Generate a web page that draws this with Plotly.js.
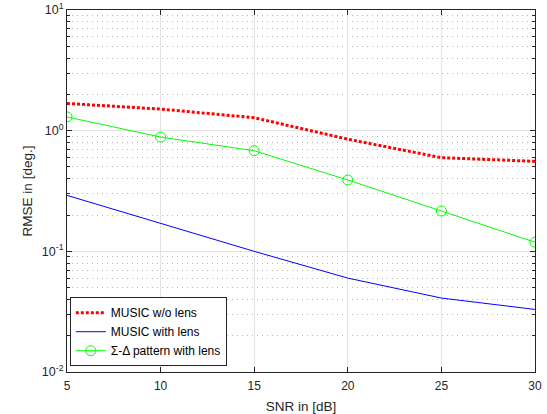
<!DOCTYPE html>
<html>
<head>
<meta charset="utf-8">
<script src="https://cdn.plot.ly/plotly-3.0.1.min.js"></script>
<style>body{margin:0;padding:0;background:#fff;} #plot{width:547px;height:414px;}</style>
</head>
<body>
<div id="plot"></div>
<script>
var snr = [5, 10, 15, 20, 25, 30];
var musicNoLens = [1.68, 1.51, 1.28, 0.85, 0.597, 0.557];
var musicLens = [0.291, 0.17, 0.1, 0.06, 0.041, 0.033];
var sigmaDelta = [1.30, 0.885, 0.682, 0.39, 0.216, 0.119];
var names = ['MUSIC w/o lens', 'MUSIC with lens', '\u03A3-\u0394 pattern with lens'];
var yTickVals = [0.01, 0.1, 1, 10];
var yTickText = ['10<sup>-2</sup>', '10<sup>-1</sup>', '10<sup>0</sup>', '10<sup>1</sup>'];
var xTickVals = [5, 10, 15, 20, 25, 30];

var traces = [
  {x: snr, y: musicNoLens, name: names[0], mode: 'lines', type: 'scatter',
   line: {color: 'rgb(255,0,0)', width: 3, dash: '3px,2px'}},
  {x: snr, y: musicLens, name: names[1], mode: 'lines', type: 'scatter',
   line: {color: 'rgb(0,0,255)', width: 1}},
  {x: snr, y: sigmaDelta, name: names[2], mode: 'lines+markers', type: 'scatter',
   line: {color: 'rgb(0,255,0)', width: 1},
   marker: {symbol: 'circle-open', size: 10, color: 'rgb(0,255,0)', line: {width: 1, color: 'rgb(0,255,0)'}}}
];

var layout = {
  width: 547, height: 414,
  margin: {l: 67, r: 12, t: 10, b: 42},
  paper_bgcolor: '#fff', plot_bgcolor: '#fff',
  font: {family: 'Liberation Sans, Arial, sans-serif', size: 12, color: '#262626'},
  showlegend: true,
  legend: {x: 0.006, y: 0.016, xanchor: 'left', yanchor: 'bottom',
    bordercolor: '#262626', borderwidth: 1, bgcolor: '#fff',
    font: {size: 12, color: '#000'}, tracegroupgap: 0},
  xaxis: {
    range: [5, 30], tickvals: xTickVals, ticks: 'inside', ticklen: 5,
    tickcolor: '#262626', showline: true, linecolor: '#262626', linewidth: 1, mirror: 'ticks',
    showgrid: true, gridcolor: '#e3e3e3', gridwidth: 1, zeroline: false,
    ticklabelstandoff: 3,
    title: {text: 'SNR in [dB]', font: {size: 13.5, color: '#262626'}, standoff: 9},
    tickfont: {size: 12, color: '#262626'}
  },
  yaxis: {
    type: 'log', range: [-2, 1], tickvals: yTickVals, ticktext: yTickText,
    ticks: 'inside', ticklen: 5, tickcolor: '#262626',
    showline: true, linecolor: '#262626', linewidth: 1, mirror: 'ticks',
    showgrid: true, gridcolor: '#e3e3e3', gridwidth: 1, zeroline: false,
    minor: {dtick: 'D1', ticks: 'inside', ticklen: 3, tickcolor: '#262626',
      showgrid: true, gridcolor: '#b8b8b8', griddash: '1px,4px', gridwidth: 1},
    title: {text: 'RMSE in [deg.]', font: {size: 13.5, color: '#262626'}, standoff: 6},
    tickfont: {size: 12.5, color: '#262626'}
  }
};

Plotly.newPlot('plot', traces, layout, {displayModeBar: false, staticPlot: true});
</script>
</body>
</html>
